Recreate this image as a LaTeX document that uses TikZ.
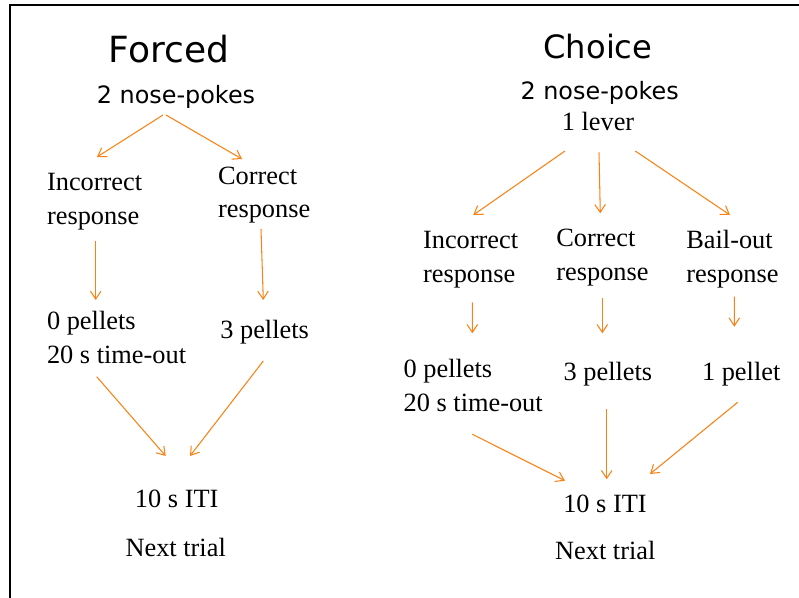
\documentclass[tikz,border=0pt]{standalone}
\usepackage{xcolor}
\usepackage{fontspec}
\setmainfont{Liberation Serif}
\newfontfamily\sansfam{DejaVu Sans}
\usetikzlibrary{arrows.meta}

\definecolor{seta}{RGB}{250,130,20}

\tikzset{
  titulo/.style={inner sep=0pt, font=\sansfam\fontsize{#1}{#1}\selectfont},
  sans/.style={inner sep=0pt, font=\sansfam\fontsize{13.6}{16}\selectfont},
  texto/.style={inner sep=0pt, align=left, font=\fontsize{15}{19.3}\selectfont},
  arr/.style={draw=seta, line width=0.6pt, -{Straight Barb[length=4.5pt,width=6pt]}}
}

\begin{document}
\begin{tikzpicture}[x=0.02cm, y=-0.02cm]
    \useasboundingbox (0,0) rectangle (799,598);
    % Moldura
    \draw[line width=1.15pt] (10,598) -- (10,5) -- (799,5);

    % Forced
    \node[titulo=20.5, anchor=base] (forced) at (169,63) {Forced};
    \node[sans, anchor=base] (np1) at (176,104) {2 nose-pokes};
    \node[texto, anchor=base west] (inc1) at (46.7,224.7) {Incorrect\\response};
    \node[texto, anchor=base west] (cor1) at (217.7,218) {Correct\\response};
    \node[texto, anchor=base west] (zero1) at (46.7,363) {0 pellets\\20 s time-out};
    \node[texto, anchor=base west] (three1) at (220,338) {3 pellets};
    \node[texto, anchor=base] (iti1) at (176.7,507.3) {10 s ITI};
    \node[texto, anchor=base] (next1) at (175.7,556) {Next trial};

    % Choice
    \node[titulo=18.3, anchor=base] (choice) at (598,58.3) {Choice};
    \node[sans, anchor=base] (np2) at (599.7,99.3) {2 nose-pokes};
    \node[texto, anchor=base] (lever) at (598,130.7) {1 lever};
    \node[texto, anchor=base west] (inc2) at (422.7,282.3) {Incorrect\\response};
    \node[texto, anchor=base west] (cor2) at (556,280.7) {Correct\\response};
    \node[texto, anchor=base west] (bail) at (686,282.3) {Bail-out\\response};
    \node[texto, anchor=base west] (zero2) at (403.3,411.3) {0 pellets\\20 s time-out};
    \node[texto, anchor=base west] (three2) at (563.3,380) {3 pellets};
    \node[texto, anchor=base west] (one) at (701.7,380) {1 pellet};
    \node[texto, anchor=base] (iti2) at (605,512.3) {10 s ITI};
    \node[texto, anchor=base] (next2) at (605.3,559.3) {Next trial};

    % Setas (Forced)
    \draw[arr] ([shift={(-13,11)}]np1.base) -- ([shift={(50.3,-67.7)}]inc1.base west);
    \draw[arr] ([shift={(-10,11)}]np1.base) -- ([shift={(24.3,-59)}]cor1.base west);
    \draw[arr] ([shift={(49,16.3)}]inc1.base west) -- ([shift={(49,-63)}]zero1.base west);
    \draw[arr] ([shift={(43.3,11)}]cor1.base west) -- ([shift={(43.3,-38)}]three1.base west);
    \draw[arr] ([shift={(50,13.7)}]zero1.base west) -- ([shift={(-11,-51.3)}]iti1.base);
    \draw[arr] ([shift={(43.3,23)}]three1.base west) -- ([shift={(13.3,-51.3)}]iti1.base);

    % Setas (Choice)
    \draw[arr] ([shift={(-33,20.3)}]lever.base) -- ([shift={(50.6,-67.3)}]inc2.base west);
    \draw[arr] ([shift={(1,21.6)}]lever.base) -- ([shift={(44.3,-67.4)}]cor2.base west);
    \draw[arr] ([shift={(37.3,20.3)}]lever.base) -- ([shift={(44,-67.3)}]bail.base west);
    \draw[arr] ([shift={(49.6,20)}]inc2.base west) -- ([shift={(69,-78)}]zero2.base west);
    \draw[arr] ([shift={(46.3,17.3)}]cor2.base west) -- ([shift={(39,-46.7)}]three2.base west);
    \draw[arr] ([shift={(48.3,14.4)}]bail.base west) -- ([shift={(32.6,-53.3)}]one.base west);
    \draw[arr] ([shift={(69,23)}]zero2.base west) -- ([shift={(-40,-31.6)}]iti2.base);
    \draw[arr] ([shift={(43.4,29)}]three2.base west) -- ([shift={(1.7,-33)}]iti2.base);
    \draw[arr] ([shift={(36,22.3)}]one.base west) -- ([shift={(45,-38.3)}]iti2.base);
\end{tikzpicture}
\end{document}
